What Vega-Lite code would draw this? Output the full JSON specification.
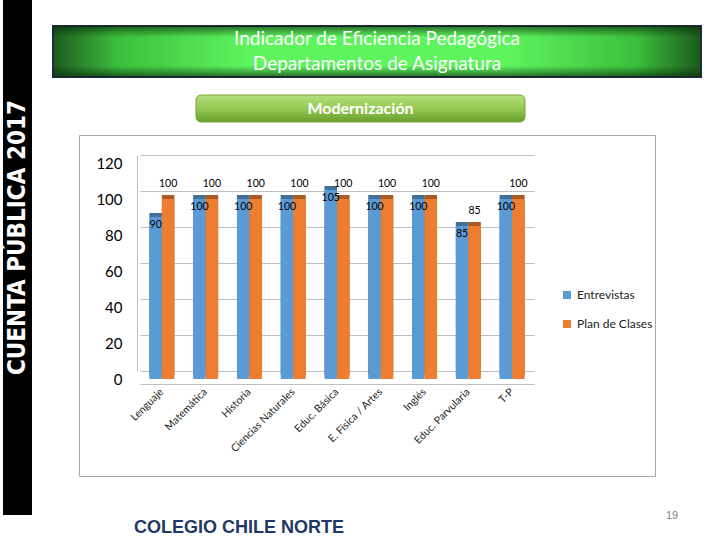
{
  "$schema": "https://vega.github.io/schema/vega-lite/v6.json",
  "background": "white",
  "padding": {"left": 3, "top": 0, "right": 0, "bottom": 0},
  "config": {
    "view": {"stroke": null},
    "concat": {"spacing": 0},
    "font": "Lato"
  },
  "datasets": {
    "bars": [
      {"cat": "Lenguaje", "serie": "Entrevistas", "val": 90},
      {"cat": "Lenguaje", "serie": "Plan de Clases", "val": 100},
      {"cat": "Matemática", "serie": "Entrevistas", "val": 100},
      {"cat": "Matemática", "serie": "Plan de Clases", "val": 100},
      {"cat": "Historia", "serie": "Entrevistas", "val": 100},
      {"cat": "Historia", "serie": "Plan de Clases", "val": 100},
      {"cat": "Ciencias Naturales", "serie": "Entrevistas", "val": 100},
      {"cat": "Ciencias Naturales", "serie": "Plan de Clases", "val": 100},
      {"cat": "Educ. Básica", "serie": "Entrevistas", "val": 105},
      {"cat": "Educ. Básica", "serie": "Plan de Clases", "val": 100},
      {"cat": "E. Física / Artes", "serie": "Entrevistas", "val": 100},
      {"cat": "E. Física / Artes", "serie": "Plan de Clases", "val": 100},
      {"cat": "Inglés", "serie": "Entrevistas", "val": 100},
      {"cat": "Inglés", "serie": "Plan de Clases", "val": 100},
      {"cat": "Educ. Parvularia", "serie": "Entrevistas", "val": 85},
      {"cat": "Educ. Parvularia", "serie": "Plan de Clases", "val": 85},
      {"cat": "T-P", "serie": "Entrevistas", "val": 100},
      {"cat": "T-P", "serie": "Plan de Clases", "val": 100}
    ]
  },
  "bounds": "full",
  "spacing": 0,
  "hconcat": [
    {
      "width": 29,
      "height": 515,
      "view": {"fill": "#000000", "stroke": null},
      "data": {"values": [{"t": "CUENTA PÚBLICA 2017"}]},
      "mark": {"type": "text", "angle": 270, "color": "#ffffff", "font": "DejaVu Sans Condensed, Liberation Sans, sans-serif", "fontWeight": "bold", "fontSize": 24, "baseline": "middle", "align": "center", "dx": 20},
      "encoding": {"text": {"field": "t", "type": "nominal"}}
    },
    {
      "bounds": "full",
      "spacing": 0,
      "vconcat": [
        {"width": 1, "height": 25, "data": {"values": [{}]}, "mark": {"type": "text", "text": ""}, "encoding": {}},
        {
          "bounds": "full",
          "spacing": 0,
          "hconcat": [
            {"width": 20, "height": 51, "data": {"values": [{}]}, "mark": {"type": "text", "text": ""}, "encoding": {}},
            {
              "width": 648,
              "height": 51,
              "layer": [
                {
                  "data": {"values": [{}]},
                  "mark": {"type": "rect", "stroke": "#1f2b45", "strokeWidth": 2,
                    "fill": {"gradient": "linear", "x1": 0, "x2": 1, "y1": 0, "y2": 0,
                      "stops": [
                        {"offset": 0, "color": "#1c5a1c"},
                        {"offset": 0.1, "color": "#3cbf3c"},
                        {"offset": 0.3, "color": "#5ef45e"},
                        {"offset": 0.7, "color": "#5ef45e"},
                        {"offset": 0.9, "color": "#3cbf3c"},
                        {"offset": 1, "color": "#1c5a1c"}
                      ]}},
                  "encoding": {}
                },
                {
                  "data": {"values": [{}]},
                  "mark": {"type": "rect",
                    "fill": {"gradient": "linear", "x1": 0, "x2": 0, "y1": 0, "y2": 1,
                      "stops": [
                        {"offset": 0, "color": "rgba(10,40,10,0.65)"},
                        {"offset": 0.22, "color": "rgba(10,40,10,0)"},
                        {"offset": 0.78, "color": "rgba(10,40,10,0)"},
                        {"offset": 1, "color": "rgba(10,40,10,0.65)"}
                      ]}},
                  "encoding": {}
                },
                {
                  "data": {"values": [
                    {"line": 1, "txt": "Indicador de Eficiencia Pedagógica"},
                    {"line": 2, "txt": "Departamentos de Asignatura"}
                  ]},
                  "mark": {"type": "text", "color": "#ffffff", "fontSize": 19, "font": "Lato", "baseline": "middle"},
                  "encoding": {
                    "y": {"field": "line", "type": "ordinal", "axis": null, "scale": {"type": "point", "padding": 0.5}},
                    "text": {"field": "txt", "type": "nominal"}
                  }
                }
              ]
            }
          ]
        },
        {"width": 1, "height": 16, "data": {"values": [{}]}, "mark": {"type": "text", "text": ""}, "encoding": {}},
        {
          "bounds": "full",
          "spacing": 0,
          "hconcat": [
            {"width": 163, "height": 27, "data": {"values": [{}]}, "mark": {"type": "text", "text": ""}, "encoding": {}},
            {
              "width": 329,
              "height": 27,
              "data": {"values": [{"txt": "Modernización"}]},
              "layer": [
                {
                  "mark": {"type": "rect", "cornerRadius": 5, "stroke": "#74a63a", "strokeWidth": 1,
                    "fill": {"gradient": "linear", "x1": 0, "x2": 0, "y1": 0, "y2": 1,
                      "stops": [
                        {"offset": 0, "color": "#b7de7e"},
                        {"offset": 0.5, "color": "#94ca52"},
                        {"offset": 1, "color": "#6a9e2e"}
                      ]}},
                  "encoding": {}
                },
                {
                  "mark": {"type": "text", "color": "#ffffff", "fontSize": 16, "fontWeight": "bold", "font": "Lato", "baseline": "middle"},
                  "encoding": {"text": {"field": "txt", "type": "nominal"}}
                }
              ]
            }
          ]
        },
        {"width": 1, "height": 8, "data": {"values": [{}]}, "mark": {"type": "text", "text": ""}, "encoding": {}},
        {
          "bounds": "full",
          "spacing": 0,
          "hconcat": [
            {"width": 46, "height": 341, "data": {"values": [{}]}, "mark": {"type": "text", "text": ""}, "encoding": {}},
            {
              "width": 576,
              "height": 341,
              "view": {"fill": "#ffffff", "stroke": "#a6a6a6", "strokeWidth": 1},
              "data": {"name": "bars"},
              "encoding": {
                "x": {
                  "field": "cat", "type": "nominal", "sort": null, "title": null,
                  "scale": {
                    "domain": ["Lenguaje", "Matemática", "Historia", "Ciencias Naturales", "Educ. Básica", "E. Física / Artes", "Inglés", "Educ. Parvularia", "T-P"],
                    "range": [61, 455], "paddingInner": 0.43, "paddingOuter": 0.215
                  },
                  "axis": {
                    "orient": "bottom", "offset": -92, "ticks": false, "domainColor": "#bfbfbf",
                    "labelAngle": -45, "labelAlign": "right", "labelBaseline": "middle", "labelPadding": 6,
                    "labelFontSize": 10.5, "labelColor": "#222222", "labelFont": "Lato", "labelOverlap": false, "grid": false
                  }
                },
                "xOffset": {"field": "serie", "type": "nominal", "scale": {"domain": ["Entrevistas", "Plan de Clases"]}},
                "y": {
                  "field": "val", "type": "quantitative", "title": null,
                  "scale": {"domain": [0, 120], "range": [236, 20], "nice": false, "zero": true},
                  "axis": {
                    "orient": "left", "offset": -58, "ticks": false, "domainColor": "#bfbfbf",
                    "grid": true, "gridColor": "#bfbfbf", "values": [0, 20, 40, 60, 80, 100, 120],
                    "labelPadding": 15, "labelOffset": 8, "labelFontSize": 15, "labelColor": "#000000",
                    "labelFont": "Lato", "labelFlush": false
                  }
                },
                "color": {"field": "serie", "type": "nominal",
                  "scale": {"domain": ["Entrevistas", "Plan de Clases"], "range": ["#5b9bd5", "#ed7d31"]},
                  "legend": {
                    "orient": "none", "legendX": 558, "legendY": 289, "title": null,
                    "symbolType": "square", "symbolSize": 64, "symbolStrokeWidth": 0,
                    "labelFontSize": 12, "labelFont": "Lato", "labelColor": "#222222", "rowPadding": 17, "labelOffset": 4
                  }
                }
              },
              "layer": [
                {
                  "mark": {"type": "bar", "xOffset": 4, "yOffset": 4, "y2Offset": 4}
                },
                {
                  "mark": {"type": "bar", "xOffset": 4, "yOffset": 4, "y2Offset": 4, "color": "#000000", "opacity": 0.28},
                  "encoding": {"color": {"value": "#000000"}}
                },
                {
                  "mark": {"type": "bar", "yOffset": 8, "y2Offset": 8}
                },
                {
                  "transform": [{"filter": "datum.serie == 'Entrevistas'"}],
                  "mark": {"type": "text", "baseline": "middle", "dy": 16, "fontSize": 10.5, "font": "Lato"},
                  "encoding": {"text": {"field": "val", "type": "quantitative"}, "color": {"value": "#000000"}}
                },
                {
                  "transform": [{"filter": "datum.serie == 'Plan de Clases'"}],
                  "mark": {"type": "text", "baseline": "bottom", "dy": -2, "fontSize": 10.5, "font": "Lato"},
                  "encoding": {"text": {"field": "val", "type": "quantitative"}, "color": {"value": "#000000"}}
                }
              ]
            }
          ]
        },
        {
          "bounds": "full",
          "spacing": 0,
          "hconcat": [
            {"width": 101, "height": 65, "data": {"values": [{}]}, "mark": {"type": "text", "text": ""}, "encoding": {}},
            {
              "width": 210,
              "height": 65,
              "data": {"values": [{"txt": "COLEGIO CHILE NORTE"}]},
              "mark": {"type": "text", "font": "Liberation Sans", "fontWeight": "bold", "fontSize": 18, "color": "#1f3864", "baseline": "middle", "dy": 18},
              "encoding": {"text": {"field": "txt", "type": "nominal"}}
            },
            {"width": 320, "height": 65, "data": {"values": [{}]}, "mark": {"type": "text", "text": ""}, "encoding": {}},
            {
              "width": 14,
              "height": 65,
              "data": {"values": [{"txt": "19"}]},
              "mark": {"type": "text", "font": "Liberation Sans", "fontSize": 11, "color": "#7f7f7f", "baseline": "middle", "dy": 6.5},
              "encoding": {"text": {"field": "txt", "type": "nominal"}}
            }
          ]
        }
      ]
    }
  ]
}
